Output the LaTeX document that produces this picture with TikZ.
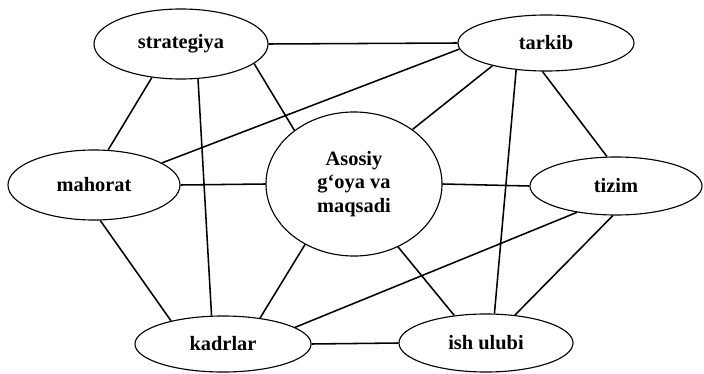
\documentclass[tikz,border=0pt]{standalone}
\usepackage{fontspec}
\setmainfont{Liberation Serif}
\usetikzlibrary{shapes.geometric}
\begin{document}
\begin{tikzpicture}[x=0.025cm,y=-0.025cm,
    bubble/.style={draw,ellipse,line width=0.8pt,inner sep=0pt,font=\bfseries\fontsize{14.5}{16.5}\selectfont,align=center},
    link/.style={line width=1.1pt}]
        \useasboundingbox (0,0) rectangle (704,374);
        %% Ellipses
        \node[bubble,minimum width=4.35cm,minimum height=1.75cm] (S) at (181,44) {strategiya};
        \node[bubble,minimum width=4.4cm,minimum height=1.4cm] (T) at (546,43) {tarkib};
        \node[bubble,minimum width=4.3cm,minimum height=1.75cm] (M) at (94,185) {mahorat};
        \node[bubble,minimum width=4.4cm,minimum height=3.6cm] (C) at (354,184) {Asosiy\\g‘oya va\\maqsadi};
        \node[bubble,minimum width=4.3cm,minimum height=1.45cm] (Z) at (616,186) {tizim};
        \node[bubble,minimum width=4.4cm,minimum height=1.4cm] (K) at (223,344) {kadrlar};
        \node[bubble,minimum width=4.35cm,minimum height=1.45cm] (I) at (486,343) {ish ulubi};
        %% Links
        \draw[link] (S.east) -- (T.west);
        \draw[link] (S.229) -- (M.68);
        \draw[link] (S.296) -- (K.112);
        \draw[link] (S.345) -- (C.138);
        \draw[link] (T.184) -- (M.18);
        \draw[link] (T.203) -- (C.43);
        \draw[link] (T.222) -- (I.74);
        \draw[link] (T.263) -- (Z.107);
        \draw[link] (M.east) -- (C.west);
        \draw[link] (M.280) -- (K.156);
        \draw[link] (C.east) -- (Z.west);
        \draw[link] (C.231) -- (K.35);
        \draw[link] (C.305) -- (I.139);
        \draw[link] (Z.214) -- (K.13);
        \draw[link] (Z.264) -- (I.44);
        \draw[link] (K.east) -- (I.west);
    \end{tikzpicture}
\end{document}
